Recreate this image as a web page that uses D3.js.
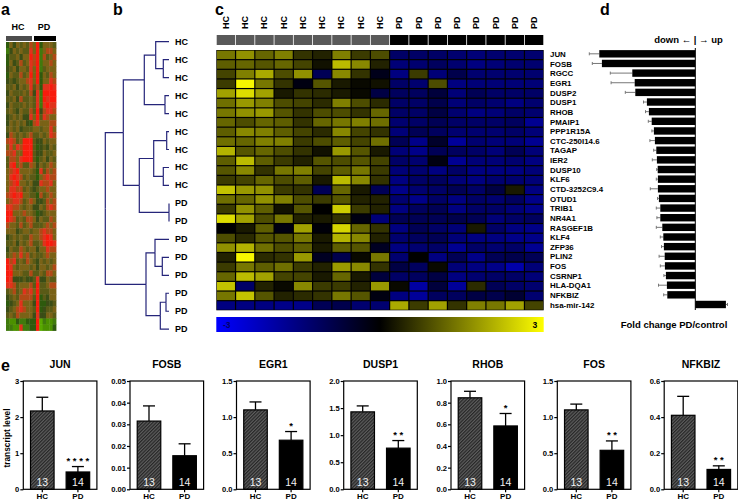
<!DOCTYPE html>
<html><head><meta charset="utf-8">
<script src="https://cdn.jsdelivr.net/npm/d3@7/dist/d3.min.js"></script>
<style>
html,body{margin:0;padding:0;background:#fff}
svg{display:block}
text{font-family:"Liberation Sans",Arial,sans-serif;font-weight:bold;fill:#000}
</style></head><body><svg id="c" width="738" height="502"></svg>
<script>
// ---------- panel a: coarse reading of the dense red/green heat map (0 green ... 9 red)
const overviewRows=[
"364656576936665","246565586926776","355646697927567","364575687926676","456466586925666","365575696936576",
"454566786936687","556465685738898","465556574829999","556475565829899","465556565828988","565465575947887",
"456564486958766","465656437866677","565645556656686","476565675565687","787569995446566","686879995345465",
"778669995446556","577689995356465","589675576465676","678966665385767","689875655367877","678966564487786",
"688775654566766","789896655375676","678875676445767","887765664465787","996667665345666","987565776465576",
"766575675556767","666456656678776","456565576678986","556465675568998","465576566466877","567686756556766",
"978565765465656","986566656466567","996665575565776","984445445844655","887566675955677","567568786955566",
"456577775935466","345686664933445","456787665934556","565766664844665","211322333902112","221182233901113"];

// ---------- panel b: dendrogram (dist = branch position)
const dendrogram={dist:0,children:[
 {dist:18,children:[
  {dist:39,children:[
   {dist:50.4,children:[{name:"HC"},{dist:58,children:[{name:"HC"},{name:"HC"}]}]},
   {dist:59.7,children:[{name:"HC"},{name:"HC"}]}]},
  {dist:34,children:[
   {dist:48.4,children:[
    {dist:61.4,children:[{name:"HC"},{name:"HC"}]},
    {dist:58,children:[{name:"HC"},{name:"HC"}]}]},
   {dist:63.7,children:[{name:"PD"},{name:"PD"}]}]}]},
 {dist:40.7,children:[
  {dist:49.7,children:[{name:"PD"},{dist:57,children:[{name:"PD"},{name:"PD"}]}]},
  {dist:55,children:[{dist:60.7,children:[{name:"PD"},{name:"PD"}]},{name:"PD"}]}]}
]};
const leafEnd=63.7;

// ---------- panel c
const genes=["JUN","FOSB","RGCC","EGR1","DUSP2","DUSP1","RHOB","PMAIP1","PPP1R15A","CTC-250I14.6","TAGAP","IER2","DUSP10","KLF6","CTD-3252C9.4","OTUD1","TRIB1","NR4A1","RASGEF1B","KLF4","ZFP36","PLIN2","FOS","CSRNP1","HLA-DQA1","NFKBIZ","hsa-mir-142"];
const samples=["HC","HC","HC","HC","HC","HC","HC","HC","HC","PD","PD","PD","PD","PD","PD","PD","PD"];
const expressionHC=[
[1.4,1.7,1.2,1.5,.6,.4,1.5,.7,.9],[1.1,1.2,1,1.2,.8,.2,2.2,1.6,.4],[.8,1.5,2,.9,1.7,-1,1.6,.6,-.3],
[.7,2.9,1.4,.6,-.2,1,.3,.1,.2],[1.9,2.6,1.9,.3,.6,.5,.3,.1,-.8],[1.3,1.8,1.5,.9,.8,.5,1.5,.9,.5],
[1.4,1.7,1.8,1,.6,.9,.9,.6,1.2],[1.2,.9,1.2,1.1,.6,1.2,1.4,1.5,1.3],[1.1,1.6,1.5,1.1,.8,.5,1.6,.8,.6],
[1.3,1.2,1.5,1.5,.7,.9,1.1,.8,1.3],[2.1,1,1.2,.9,.6,.2,1.8,1,.3],[1.1,2.2,1.1,.7,.4,1,.9,1,.8],
[1,1.6,.6,1.4,1.5,.8,1.1,1.4,.7],[.7,.8,1.2,.9,1.1,.3,2.2,1.6,.6],[2.3,1.8,1.7,.7,.6,-1,1.2,.3,-1],
[1.3,1.2,1.7,1.5,.9,.7,1,.4,.4],[.7,1.7,1.1,.2,1,0,2.4,.7,.4],[2.6,1.9,.9,1.4,.4,.3,.6,-.2,-1.4],
[0,.3,1.1,-.2,1.9,-.1,2.5,1.2,.6],[.9,.5,1,1,1.4,.3,2.1,1.6,.4],[1.7,2.1,1.3,.9,1.1,.3,1.1,1,-.4],
[.4,2.9,.5,.6,1.8,-.4,-.9,.1,1.4],[.7,1.4,1.1,1.3,.7,.4,1.8,1.6,.6],[1.2,2.2,1.9,.8,.8,.3,1.2,.3,-.7],
[2.3,-1.2,.4,.1,1.6,.7,.7,.4,1.8],[1.4,2.3,1,.4,.5,.6,1.4,1,-.2],[-1.5,-1.5,-1.5,-1.6,-1.6,-1,-.9,-1.3,-1.3]];
const expressionPD=[
[-1.2,-1.2,-1.2,-1.3,-1.4,-1.3,-1.3,-1.3],[-1.4,-1.3,-1.1,-1.3,-1.5,-1.4,-1.3,-1.3],[-1.5,.7,-1.4,-.9,-1.3,-1.3,-1.3,-1.3],
[-1.2,-1.3,.9,-1.5,-1.4,-1.4,-1.4,-1.4],[-1.1,-1.1,-.7,-1.4,-1,-1.2,-1.2,-1.2],[-1.2,-1.2,-.9,-1.4,-1.2,-1.3,-1.5,-1.3],
[-1.2,-1.2,-.8,-1.3,-1.5,-1.4,-1.2,-1.3],[-1.3,-1.2,-1,-1.2,-1.2,-1.2,-1.1,-1.7],[-1.4,-1,-1.1,-1.3,-1.3,-1.3,-1.2,-1.4],
[-1,-1.6,-.5,-1.8,-1.3,-1.4,-1.4,-1.7],[-1.4,-1.6,-1,-1.1,-1.2,-1.4,-1,-1.4],[-1.2,-1.3,-.2,-1.7,-1.4,-1.4,-1.3,-1.5],
[-1.4,-1.3,-1.5,-1.2,-1.5,-1.5,-1.5,-1.4],[-1.5,-1.2,-1.1,-1.4,-1.5,-1.3,-1.3,-1.4],[-1.6,-1.3,-1.2,-1,-1.2,-.8,.3,-1.5],
[-1.3,-1.6,-1.2,-1.5,-1.2,-1.3,-1.1,-1.6],[-1.5,-1.1,-1,-1.5,-1.2,-1.2,-1.4,-1.6],[-1,-1,-1,-.9,-1,-1.4,-1.2,-1.1],
[-1.5,-1,-1.2,-1.4,.3,-1.2,-1.5,-1.6],[-1.3,-1.1,-1,-1.4,-1.5,-1.5,-1.6,-1.6],[-1.5,-1.3,-1.2,-1.7,-1.2,-1.3,-1.2,-1.7],
[-1.3,0,-1.5,-1,-1.6,-1,-.9,-1],[-.8,-1.1,.1,-1.4,-1.5,-1.6,-2,-1.4],[-1.2,-1.1,-.8,-1.5,-1.3,-1.2,-1.2,-1.4],
[.1,-1.9,-.7,-1.8,.5,-1,-1.2,-1.3],[-1.5,-1.8,-1.1,-1.1,-.8,-.9,-.6,-1.3],[2,.7,1.9,.6,1.5,1.4,1.9,.8]];

// ---------- panel d
const foldChange=[-4.8,-4.67,-3.15,-3.03,-3,-2.42,-2.32,-2.18,-2.07,-2.02,-1.95,-1.92,-1.88,-1.87,-1.87,-1.82,-1.75,-1.75,-1.65,-1.6,-1.57,-1.53,-1.52,-1.47,-1.42,-1.4,1.53];
const foldError=[.5,.48,1.1,1.18,.5,.17,.17,.17,.1,.25,.13,.23,.05,.08,.38,.07,.2,.17,.3,.15,.12,.28,.23,.1,.42,.18,.08];

// ---------- panel e
const qpcrGenes=["JUN","FOSB","EGR1","DUSP1","RHOB","FOS","NFKBIZ"];
const qpcrMax=[3,.05,1.5,2,1,1.5,.6];
const qpcrTicks=[[0,1,2,3],[0,.01,.02,.03,.04,.05],[0,.5,1,1.5],[0,.5,1,1.5,2],[0,.2,.4,.6,.8,1],[0,.5,1,1.5],[0,.2,.4,.6]];
const qpcrFormat=["d",".2f",".1f",".1f",".1f",".1f",".1f"];
const qpcrHC=[2.17,.0315,1.1,1.43,.845,1.1,.41];
const qpcrHCtop=[2.55,.0385,1.21,1.54,.905,1.18,.515];
const qpcrPD=[.48,.0155,.68,.76,.585,.54,.11];
const qpcrPDtop=[.63,.021,.8,.9,.7,.67,.13];
const qpcrStars=["* * * *","","*","* *","*","* *","* *"];
const groups=["HC","PD"];
const groupN=["13","14"];

const svg=d3.select("#c");
const defs=svg.append("defs");
defs.append("filter").attr("id","soft").attr("x","-2%").attr("y","-2%").attr("width","104%").attr("height","104%")
  .append("feGaussianBlur").attr("stdDeviation","0.5 0.35");
const hatch=defs.append("pattern").attr("id","hatch").attr("width",2.4).attr("height",2.4)
  .attr("patternUnits","userSpaceOnUse").attr("patternTransform","rotate(45)");
hatch.append("rect").attr("width",2.4).attr("height",2.4).attr("fill","#5e5e5e");
hatch.append("rect").attr("width",1.2).attr("height",2.4).attr("fill","#262626");
const grad=defs.append("linearGradient").attr("id","bar");
[[0,"#0000ff"],[.5,"#000"],[1,"#ffff00"]].forEach(s=>grad.append("stop").attr("offset",s[0]).attr("stop-color",s[1]));

// panel letters
[["a",1,15],["b",113,15],["c",215,15],["d",600,15],["e",1,371]].forEach(d=>
  svg.append("text").attr("x",d[1]).attr("y",d[2]).attr("font-size",16).text(d[0]));

// ---------- a
const ax=d3.scaleBand().domain(d3.range(15)).range([6,56]);
const ay=d3.scaleBand().domain(d3.range(overviewRows.length)).range([42,330.5]);
const ac=d3.scaleLinear().domain([0,2,3,4,5,6,7,8,9]).range(["#58a800","#3f7a0a","#2f5a10","#3a4d12","#5a5a14","#7a6216","#b04a18","#e0301a","#f81c10"]);
const ag=svg.append("g").attr("filter","url(#soft)");
overviewRows.forEach((row,r)=>{
  ag.selectAll(null).data(row.split("").map(Number)).join("rect")
    .attr("x",(d,i)=>ax(i)).attr("y",ay(r)).attr("width",ax.bandwidth()+.4).attr("height",ay.bandwidth()+.4)
    .attr("fill",d=>ac(d));
});
svg.append("rect").attr("x",6).attr("y",36).attr("width",26).attr("height",5).attr("fill","#4d4d4d");
svg.append("rect").attr("x",34).attr("y",36).attr("width",22).attr("height",5).attr("fill","#000");
[["HC",18],["PD",44]].forEach(d=>svg.append("text").attr("x",d[1]).attr("y",30).attr("text-anchor","middle").attr("font-size",9).text(d[0]));

// ---------- b
const root=d3.hierarchy(dendrogram);
const leaves=root.leaves();
const ly=d3.scalePoint().domain(d3.range(leaves.length)).range([41.7,329.2]);
const dx=d3.scaleLinear().domain([0,leafEnd]).range([105.3,169]);
leaves.forEach((l,i)=>{l.py=ly(i);l.px=dx(leafEnd);});
root.eachAfter(n=>{ if(n.children){n.py=d3.mean(n.children,c=>c.py);n.px=dx(n.data.dist);} });
svg.append("g").attr("fill","none").attr("stroke","#25257a").attr("stroke-width",1.2)
  .selectAll("path").data(root.links()).join("path")
  .attr("d",l=>`M${l.source.px},${l.source.py}V${l.target.py}H${l.target.px}`);
svg.append("g").selectAll("text").data(leaves).join("text")
  .attr("x",175).attr("y",d=>d.py+3).attr("font-size",9).text(d=>d.data.name);

// ---------- c
const cx=d3.scaleBand().domain(d3.range(samples.length)).range([216.3,543.7]);
const cy=d3.scaleBand().domain(genes).range([50,310.3]);
const hc=d3.scaleLinear().domain([-3,0,3]).range(["#0000ff","#000","#ffff00"]);
svg.append("g").selectAll("rect").data(samples).join("rect")
  .attr("x",(d,i)=>cx(i)+.4).attr("y",35).attr("width",cx.bandwidth()-.8).attr("height",10)
  .attr("fill",d=>d==="HC"?"#595959":"#000");
svg.append("g").selectAll("text").data(samples).join("text")
  .attr("transform",(d,i)=>`translate(${cx(i)+cx.bandwidth()/2+3},29) rotate(-90)`)
  .attr("font-size",9).text(d=>d);
const cells=genes.flatMap((g,r)=>expressionHC[r].concat(expressionPD[r]).map((v,i)=>({g,i,v})));
svg.append("rect").attr("x",216.3).attr("y",50).attr("width",327.4).attr("height",260.3).attr("fill","#000");
svg.append("g").selectAll("rect").data(cells).join("rect")
  .attr("x",d=>cx(d.i)+.6).attr("y",d=>cy(d.g)+.6)
  .attr("width",cx.bandwidth()-1.2).attr("height",cy.bandwidth()-1.2)
  .attr("fill",d=>hc(d.v));
svg.append("g").selectAll("text").data(genes).join("text")
  .attr("x",550).attr("y",d=>cy(d)+cy.bandwidth()/2+2.2).attr("font-size",7.9).text(d=>d);
svg.append("rect").attr("x",216.3).attr("y",317).attr("width",327.4).attr("height",15).attr("fill","url(#bar)");
svg.append("text").attr("x",223).attr("y",328).attr("font-size",8.5).style("fill","#00006a").text("-3");
svg.append("text").attr("x",532.5).attr("y",328).attr("font-size",8.5).text("3");

// ---------- d
const fx=d3.scaleLinear().domain([0,1]).range([695.3,715.3]);
const fy=g=>cy(g)+cy.bandwidth()/2-1;
const rows=genes.map((g,i)=>({g,v:foldChange[i],e:foldError[i]}));
const whisk=svg.append("g").attr("stroke","#777").attr("stroke-width",1);
whisk.selectAll("line.h").data(rows).join("line").attr("class","h")
  .attr("x1",d=>fx(d.v)).attr("x2",d=>fx(d.v+Math.sign(d.v)*d.e)).attr("y1",d=>fy(d.g)).attr("y2",d=>fy(d.g));
whisk.selectAll("line.c").data(rows).join("line").attr("class","c")
  .attr("x1",d=>fx(d.v+Math.sign(d.v)*d.e)).attr("x2",d=>fx(d.v+Math.sign(d.v)*d.e)).attr("y1",d=>fy(d.g)-1.5).attr("y2",d=>fy(d.g)+1.5);
svg.append("g").selectAll("rect").data(rows).join("rect")
  .attr("x",d=>Math.min(fx(d.v),fx(0))).attr("y",d=>fy(d.g)-3.7)
  .attr("width",d=>Math.abs(fx(d.v)-fx(0))).attr("height",7.4).attr("fill","#000");
svg.append("line").attr("x1",fx(0)).attr("x2",fx(0)).attr("y1",48).attr("y2",310).attr("stroke","#000").attr("stroke-width",1);
svg.append("text").attr("x",688.5).attr("y",43).attr("text-anchor","middle").attr("font-size",9.5).text("down ← | → up");
svg.append("text").attr("x",674).attr("y",327.5).attr("text-anchor","middle").attr("font-size",9.5).text("Fold change PD/control");

// ---------- e
const lefts=[23.3,130,236.5,343.7,451,557.3,664.2];
const W=73.6,T=381,B=489.3;
qpcrGenes.forEach((g,k)=>{
  const p=svg.append("g").attr("transform",`translate(${lefts[k]},0)`);
  const x=d3.scaleBand().domain(groups).range([0,W]).paddingInner(.305).paddingOuter(.186);
  const y=d3.scaleLinear().domain([0,qpcrMax[k]]).range([B,T]);
  const vals=[qpcrHC[k],qpcrPD[k]],tops=[qpcrHCtop[k],qpcrPDtop[k]];
  groups.forEach((gr,i)=>{
    const c=x(gr)+x.bandwidth()/2;
    p.append("line").attr("x1",c).attr("x2",c).attr("y1",y(vals[i])).attr("y2",y(tops[i])).attr("stroke","#000").attr("stroke-width",1.3);
    p.append("line").attr("x1",c-6).attr("x2",c+6).attr("y1",y(tops[i])).attr("y2",y(tops[i])).attr("stroke","#000").attr("stroke-width",1.3);
    p.append("rect").attr("x",x(gr)+.6).attr("y",y(vals[i])).attr("width",x.bandwidth()-1.2).attr("height",B-y(vals[i]))
      .attr("fill",gr==="HC"?"url(#hatch)":"#000").attr("stroke","#000").attr("stroke-width",1.2);
    p.append("text").attr("x",c).attr("y",B-3.5).attr("text-anchor","middle").attr("font-size",10.5)
      .style("font-weight","normal").style("fill","#f2f2f2").text(groupN[i]);
  });
  p.append("text").attr("x",x("PD")+x.bandwidth()/2).attr("y",y(qpcrPDtop[k])-2.5).attr("text-anchor","middle")
    .attr("font-size",9.5).text(qpcrStars[k]);
  const ya=d3.axisLeft(y).tickValues(qpcrTicks[k]).tickFormat(d3.format(qpcrFormat[k])).tickSize(3).tickPadding(1);
  const yg=p.append("g").call(ya);
  yg.select(".domain").remove();
  yg.selectAll("line").attr("stroke","#000").attr("stroke-width",1.2);
  yg.selectAll("text").attr("font-size",7.6).style("font-family","Liberation Sans").style("font-weight","bold");
  const xa=d3.axisBottom(x).tickSize(3).tickPadding(1);
  const xg=p.append("g").attr("transform",`translate(0,${B})`).call(xa);
  xg.select(".domain").remove();
  xg.selectAll("line").attr("stroke","#000").attr("stroke-width",1.2);
  xg.selectAll("text").attr("font-size",8).style("font-family","Liberation Sans").style("font-weight","bold");
  p.append("rect").attr("x",0).attr("y",T).attr("width",W).attr("height",B-T).attr("fill","none").attr("stroke","#000").attr("stroke-width",1.2);
  p.append("text").attr("x",W/2).attr("y",368).attr("text-anchor","middle").attr("font-size",10.5).text(g);
});
svg.append("text").attr("transform","translate(10,438) rotate(-90)").attr("text-anchor","middle").attr("font-size",8.3).text("transcript level");
</script></body></html>
